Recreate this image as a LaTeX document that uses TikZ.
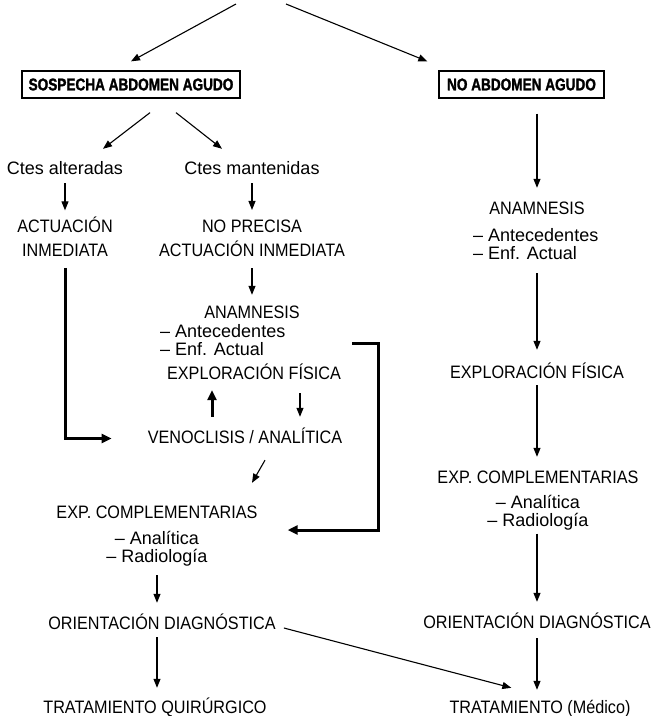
\documentclass[tikz,border=0pt]{standalone}
\usepackage{fontspec}
\setmainfont{Liberation Sans}
\newfontfamily\estrecha[FakeStretch=0.9]{Liberation Sans}
\newfontfamily\titular[FakeStretch=0.8, BoldFeatures={FakeBold=1.6}]{Liberation Sans}
\usetikzlibrary{positioning,arrows.meta,calc}

\begin{document}
\begin{tikzpicture}[x=1pt,y=-1pt,
  txt/.style={font=\estrecha\fontsize{18}{20}\selectfont, inner sep=0pt, text height=13.5pt, text depth=3.5pt},
  minus/.style={font=\fontsize{18}{18}\selectfont, inner sep=0pt, text height=13.5pt, text depth=3.5pt},
  bloque/.style={font=\estrecha\fontsize{18}{24.5}\selectfont, inner sep=0pt, align=center},
  lista/.style={font=\fontsize{18}{18}\selectfont, inner sep=0pt},
  titulo/.style={draw, line width=1.3pt, font=\titular\bfseries\fontsize{17}{20}\selectfont,
    minimum height=27pt, inner xsep=0pt},
  flecha/.style={-{Triangle[length=9pt,width=7pt]}, line width=1.1pt},
  grueso/.style={-{Triangle[length=10pt,width=9pt]}, line width=3pt}]
\useasboundingbox (0,0) rectangle (659,716);

% cabecera
\coordinate (origenI) at (236,4);
\coordinate (origenD) at (286,4);
\node[titulo, minimum width=218pt] (sospecha) at (131,84.5) {SOSPECHA ABDOMEN AGUDO};
\node[titulo, minimum width=165pt] (noabd) at (521.5,84.5) {NO ABDOMEN AGUDO};
\draw[flecha] (origenI) -- ([yshift=9pt]sospecha.north);
\draw[flecha] (origenD) -- ([xshift=-11pt,yshift=9pt]noabd.north west);

% rama izquierda
\node[minus, anchor=base] (alteradas) at (65,174.5) {Ctes alteradas};
\node[minus, anchor=base] (mantenidas) at (252,174.5) {Ctes mantenidas};
\draw[flecha] ([xshift=19pt,yshift=-14pt]sospecha.south) -- ([xshift=38pt,yshift=12pt]alteradas.north);
\draw[flecha] ([xshift=45pt,yshift=-14pt]sospecha.south) -- ([xshift=-30pt,yshift=12pt]mantenidas.north);

\node[bloque] (actuacion) at (65,236.6) {ACTUACIÓN\\INMEDIATA};
\node[bloque] (noprecisa) at (252,238.3) {NO PRECISA\\ACTUACIÓN INMEDIATA};
\draw[flecha, shorten <=5pt, shorten >=6pt] (alteradas) -- (actuacion);
\draw[flecha, shorten <=5pt, shorten >=9.5pt] (mantenidas) -- (noprecisa);

\node[txt, anchor=base] (anamL) at (252,318.5) {ANAMNESIS};
\draw[flecha, shorten <=11pt, shorten >=10pt] (noprecisa) -- (anamL);
\node[lista, align=left, anchor=west] (antL) at (160,340) {– Antecedentes\\– Enf. Actual};
\node[txt, anchor=base] (explL) at (254,379.5) {EXPLORACIÓN FÍSICA};
\node[txt, anchor=base] (venoL) at (245,443.5) {VENOCLISIS / ANALÍTICA};

\draw[grueso, shorten <=11pt, shorten >=36pt] (actuacion.south) |- (venoL.west);
\draw[grueso, shorten <=13pt, shorten >=7pt] ([xshift=-33pt]venoL.north) -- ([xshift=-42pt]explL.south);
\draw[flecha, shorten <=10pt, shorten >=13pt] ([xshift=46pt]explL.south) -- ([xshift=55pt]venoL.north);

\node[txt, anchor=base] (explcL) at (157,518.5) {EXP. COMPLEMENTARIAS};
\draw[flecha] ([xshift=20pt,yshift=-13pt]venoL.south) -- ([xshift=95pt,yshift=22pt]explcL.north);

% desde la anamnesis
\coordinate (salida) at (352,343);
\draw[grueso] (salida) -- ++(26,0) |- ([xshift=30pt,yshift=-16.5pt]explcL.east);

\node[lista, align=center] (analL) at (157,548.9) {– Analítica\\– Radiología};
\node[txt, anchor=base] (orL) at (162,629.5) {ORIENTACIÓN DIAGNÓSTICA};
\draw[flecha, shorten <=8.7pt, shorten >=13pt] (analL.south) -- (analL.south |- orL.north);
\node[txt, anchor=base] (tratL) at (155,713.5) {TRATAMIENTO QUIRÚRGICO};
\draw[flecha, shorten <=4pt, shorten >=12pt] ([xshift=-5pt]orL.south) -- ([xshift=2pt]tratL.north);

% rama derecha
\node[txt, anchor=base] (anamR) at (537,214.5) {ANAMNESIS};
\draw[flecha, shorten <=15pt, shorten >=13pt] (anamR.north |- noabd.south) -- (anamR.north);
\node[lista, align=left, anchor=west] (antR) at (473,244) {– Antecedentes\\– Enf. Actual};
\node[txt, anchor=base] (explR) at (537,378.5) {EXPLORACIÓN FÍSICA};
\draw[flecha, shorten <=13.5pt, shorten >=15pt] (explR.north |- antR.south) -- (explR.north);
\node[txt, anchor=base] (explcR) at (538,483.5) {EXP. COMPLEMENTARIAS};
\draw[flecha, shorten <=3pt, shorten >=13pt] (explR.south) -- (explR.south |- explcR.north);
\node[lista, align=center] (analR) at (538,512.9) {– Analítica\\– Radiología};
\node[txt, anchor=base] (orR) at (537,628.5) {ORIENTACIÓN DIAGNÓSTICA};
\draw[flecha, shorten <=3pt, shorten >=13pt] (analR.south -| orR.north) -- (orR.north);
\node[txt, anchor=base] (tratR) at (540,713.5) {TRATAMIENTO (Médico)};
\draw[flecha, shorten <=6pt, shorten >=10pt] (orR.south) -- (orR.south |- tratR.north);

% hacia tratamiento medico
\draw[flecha] ([xshift=8pt,yshift=-3.5pt]orL.east) -- ([xshift=62pt,yshift=12pt]tratR.north west);
\end{tikzpicture}
\end{document}
